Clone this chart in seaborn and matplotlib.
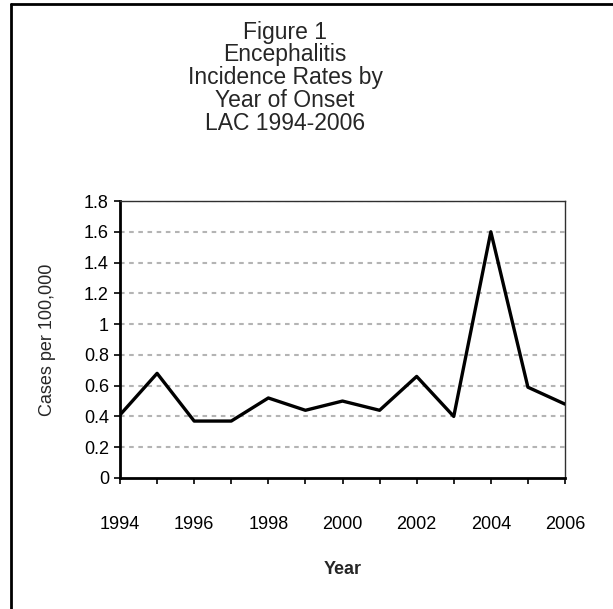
import pandas as pd
import matplotlib
matplotlib.use("Agg")
import matplotlib.pyplot as plt
import seaborn as sns
from matplotlib.lines import Line2D

# Data
years = [1994, 1995, 1996, 1997, 1998, 1999, 2000, 2001, 2002, 2003, 2004, 2005, 2006]
rates = [0.41, 0.68, 0.37, 0.37, 0.52, 0.44, 0.50, 0.44, 0.66, 0.40, 1.60, 0.59, 0.48]
title_lines = ["Figure 1", "Encephalitis", "Incidence Rates by", "Year of Onset", "LAC 1994-2006"]
ytick_vals = [0, 0.2, 0.4, 0.6, 0.8, 1.0, 1.2, 1.4, 1.6, 1.8]
ytick_labels = ["0", "0.2", "0.4", "0.6", "0.8", "1", "1.2", "1.4", "1.6", "1.8"]

df = pd.DataFrame({"year": years, "rate": rates})

sns.set_theme(style="white")
plt.rcParams['font.family'] = ['Liberation Sans', 'DejaVu Sans']

fig = plt.figure(figsize=(6.13, 6.09), dpi=100)
ax = fig.add_axes([120 / 613, 1 - 478 / 609, 445 / 613, 277 / 609])

# gridlines
for v in ytick_vals[1:]:
    ax.axhline(v, color='#b4b4b4', lw=1.5, ls=(0, (2.2, 2.2)), zorder=1)

sns.lineplot(data=df, x="year", y="rate", ax=ax, color='black', lw=2.4, zorder=3)

ax.set_xlim(1994, 2006)
ax.set_ylim(0, 1.8)
ax.set_yticks(ytick_vals)
ax.set_yticklabels(ytick_labels)
ax.set_xticks(years)
ax.set_xticklabels([str(y) if y % 2 == 0 else "" for y in years])

ax.tick_params(axis='y', direction='out', length=4, width=1.2, pad=4, labelsize=13, left=True, colors='black')
ax.tick_params(axis='x', direction='out', length=4.3, width=1.2, pad=23, labelsize=13, bottom=True, colors='black')

for s in ['left', 'bottom']:
    ax.spines[s].set_linewidth(2)
    ax.spines[s].set_color('black')
for s in ['top', 'right']:
    ax.spines[s].set_linewidth(1)
    ax.spines[s].set_color('#303030')

ax.set_xlabel("Year", fontsize=13, fontweight='bold', labelpad=20)
ax.set_ylabel("Cases per 100,000", fontsize=13, labelpad=20)

# title block
for i, line in enumerate(title_lines):
    fig.text(285 / 613, 1 - (32 + i * 22.8) / 609, line, ha='center', va='center', fontsize=16.5)

# outer frame
fig.add_artist(Line2D([11 / 613, 11 / 613], [0, 1 - 4 / 609], transform=fig.transFigure, color='black', lw=2))
fig.add_artist(Line2D([11 / 613, 1], [1 - 4 / 609, 1 - 4 / 609], transform=fig.transFigure, color='black', lw=2))

fig.savefig("out.png", dpi=100)
